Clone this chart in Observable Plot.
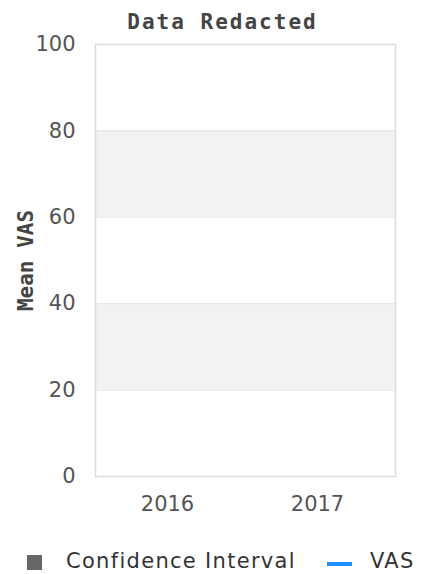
<!DOCTYPE html>
<html>
<head>
<meta charset="utf-8">
<script src="https://cdn.jsdelivr.net/npm/d3@7"></script>
<script src="https://cdn.jsdelivr.net/npm/@observablehq/plot@0.6"></script>
<style>
  html, body { margin: 0; padding: 0; background: #fff; }
  body { width: 433px; height: 574px; overflow: hidden; font-family: "DejaVu Sans", sans-serif; }
  #title { height: 34px; padding-top: 5px; line-height: 34px; box-sizing: content-box;
    text-align: center; font-family: "DejaVu Sans Mono", monospace; font-weight: bold;
    font-size: 21px; letter-spacing: 2px; color: #444; padding-left: 12px; position: relative; z-index: 1; }
  #chart { margin-top: -12px; }
  #chart svg { display: block; }
  #legend { position: relative; height: 48px; font-size: 21px; color: #333; }
  .sw { position: absolute; }
  .lt { position: absolute; top: 0; line-height: 70px; letter-spacing: 1.3px; }
</style>
</head>
<body>
<div id="title">Data Redacted</div>
<div id="chart"></div>
<div id="legend">
  <div class="sw" style="left:27px; top:29px; width:15px; height:15px; background:#666;"></div>
  <div class="lt" style="left:66px;">Confidence Interval</div>
  <div class="sw" style="left:327px; top:36px; width:25px; height:4px; background:#1e90ff;"></div>
  <div class="lt" style="left:370px;">VAS</div>
</div>
<script>
// Categories and ticks (data redacted: no series values drawn)
const years = ["2016", "2017"];
const yTicks = [0, 20, 40, 60, 80, 100];
const bandLow = [20, 60];
const bandHigh = [40, 80];
const gridValues = [20, 40, 60, 80];
const yLabel = "Mean VAS";
// Redacted series: empty
const vasYears = [];
const vasValues = [];
const ciLow = [];
const ciHigh = [];

const bands = bandLow.map((lo, i) => ({lo, hi: bandHigh[i]}));
const vas = vasYears.map((yr, i) => ({year: yr, value: vasValues[i], lo: ciLow[i], hi: ciHigh[i]}));

const chart = Plot.plot({
  width: 433,
  height: 499,
  marginTop: 17,
  marginBottom: 50,
  marginLeft: 95,
  marginRight: 38,
  style: {fontFamily: "DejaVu Sans", background: "transparent", overflow: "visible"},
  x: {type: "point", domain: years, padding: 0.5, label: null},
  y: {domain: [0, 100], label: null},
  marks: [
    Plot.rectY(bands, {y1: "lo", y2: "hi", fill: "#f2f2f2"}),
    Plot.ruleY(gridValues, {stroke: "#e4e4e4", strokeWidth: 1}),
    Plot.areaY(vas, {x: "year", y1: "lo", y2: "hi", fill: "#666", fillOpacity: 0.3}),
    Plot.line(vas, {x: "year", y: "value", stroke: "#1e90ff", strokeWidth: 3}),
    Plot.frame({stroke: "#dcdcdc", strokeWidth: 1.5}),
    Plot.axisY(yTicks, {tickSize: 0, tickPadding: 20, fontSize: 21, fill: "#555", label: null,
      style: {letterSpacing: "1.5px"}}),
    Plot.axisX(years, {tickSize: 0, tickPadding: 20, fontSize: 21, fill: "#555", label: null, dx: -3,
      style: {letterSpacing: "1.5px"}}),
    Plot.text([yLabel], {frameAnchor: "left", rotate: -90, dx: -69, textAnchor: "middle",
      lineAnchor: "middle", fontSize: 21, fontWeight: "bold", fill: "#444",
      fontFamily: "DejaVu Sans Mono", style: {letterSpacing: "2px"}})
  ]
});
document.getElementById("chart").appendChild(chart);
</script>
</body>
</html>
